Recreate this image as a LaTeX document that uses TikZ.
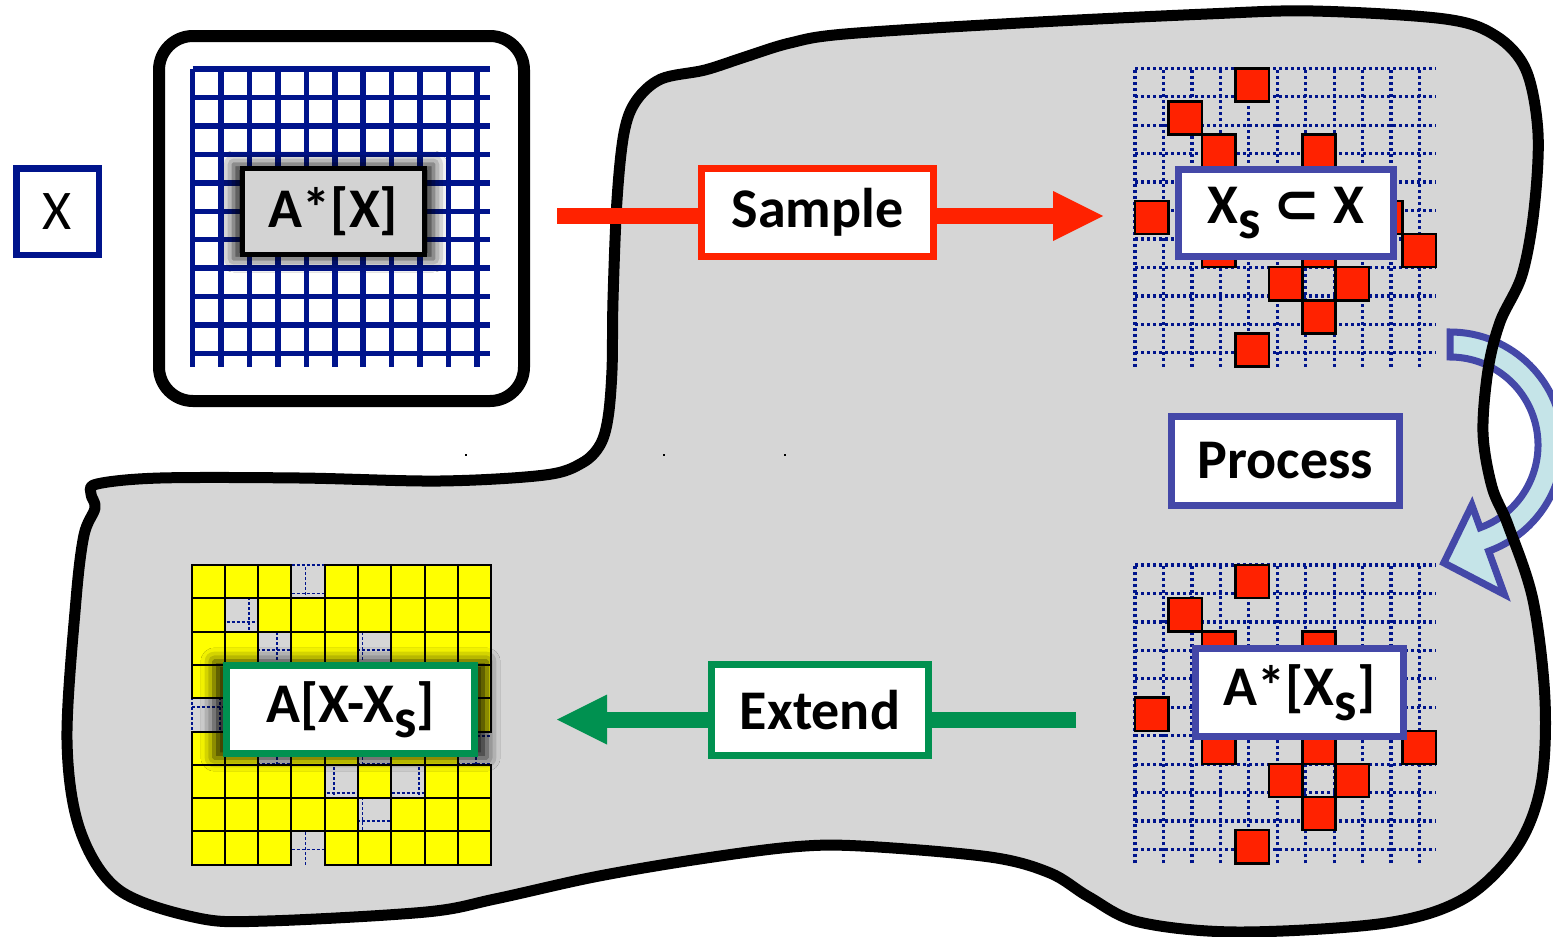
\documentclass[tikz,border=0pt]{standalone}
\usepackage{fontspec}
\setmainfont{Carlito}
\newfontfamily\symfnt{DejaVu Sans}
\usetikzlibrary{arrows.meta,calc,positioning,shadows.blur}
\definecolor{gridblue}{RGB}{0,20,140}
\definecolor{samplered}{RGB}{255,34,0}
\definecolor{procblue}{RGB}{68,72,168}
\definecolor{extgreen}{RGB}{0,145,80}
\definecolor{blobgray}{RGB}{214,214,214}
\definecolor{labelgray}{RGB}{211,211,211}
\definecolor{turnfill}{RGB}{197,228,232}
\definecolor{cellyellow}{RGB}{255,255,0}
\newcommand{\sub}[1]{\raisebox{-0.27em}{#1}}
% cells picked by the sampler (column/row, counted from the top left)
\newcommand{\samplecells}{3/0,1/1,2/2,5/2,2/3,5/3,0/4,7/4,2/5,5/5,8/5,4/6,6/6,5/7,3/8}
% outline of the grey work area
\newcommand{\blobpath}{plot[smooth cycle,tension=0.55] coordinates {
  (97,484) (160,478) (300,478) (440,481) (545,475) (582,463) (600,445)
  (608,418) (612,370) (613,300) (617,200) (624,133) (636,101) (661,79)
  (705,70) (745,57) (790,43) (845,34) (1020,23) (1207,14) (1313,11)
  (1445,19) (1496,36) (1526,70) (1538,133) (1534,210) (1522,275)
  (1500,322) (1488,370) (1483,433) (1492,487) (1508,525) (1533,600)
  (1545,700) (1541,785) (1517,847) (1465,898) (1386,923) (1238,932)
  (1139,922) (1089,897) (1050,873) (990,857) (861,846) (792,847)
  (693,860) (594,877) (495,899) (426,912) (267,921) (198,918)
  (119,890) (80,830) (67,740) (76,600) (84,535) (95,508) (91,494)}}
\tikzset{
  lbl/.style={draw,line width=7pt,fill=white,inner sep=0pt,
    font=\bfseries\fontsize{56}{56}\selectfont},
  glow/.style={blur shadow={shadow xshift=0pt,shadow yshift=0pt,
    shadow scale=1.1,shadow blur radius=12pt,shadow opacity=90}},
  flowline/.style={line width=16pt},
  bighead/.style={-{Triangle[length=50pt,width=50pt,line width=0pt]}},
  dotgrid/.style={gridblue,line width=3.3pt,dash pattern=on 3pt off 3pt},
  dashgrid/.style={gridblue,line width=1.8pt,dash pattern=on 3pt off 2pt},
  redcell/.style={draw=black,line width=2.5pt,fill=samplered},
  yellowcell/.style={draw=black,line width=2pt,fill=cellyellow}
}

\begin{document}
\begin{tikzpicture}[x=1pt,y=-1pt]
  \useasboundingbox (0,0) rectangle (1553,937);
  % ---------------- grey work area + turn arrow ------------------------
  \fill[blobgray] \blobpath;
  \coordinate (turnC) at (1450,445);
  \draw[procblue,line width=7pt,fill=turnfill,line join=miter]
    ($(turnC)+(-90:113)$) arc[start angle=-90,end angle=70,radius=113]
    -- ($(turnC)+(70:159)$) -- ($(turnC)+(93:118)$) -- ($(turnC)+(70:64)$)
    -- ($(turnC)+(70:88)$) arc[start angle=70,end angle=-90,radius=88]
    -- cycle;
  \draw[line width=11pt,line join=round] \blobpath;
  \foreach \dx in {465,585,663,784}
    \fill (\dx,454) rectangle ++(1.8,1.8);

  % ---------------- full data set (top left) ---------------------------
  \draw[line width=12pt,fill=white,rounded corners=34pt] (159,36) rectangle (524,401);
  \begin{scope}[shift={(192.5,69)},x=33.1pt,y=-33.1pt]
    \draw[gridblue,line width=5.5pt] (0,0) grid (9,9);
  \end{scope}
  \node[lbl,draw=gridblue,line width=6.5pt,font=\fontsize{56}{56}\selectfont,
    minimum width=82.5pt,minimum height=86.5pt] (xBox) at (57.5,211.5) {X};
  \node[lbl,draw=black,line width=5pt,fill=labelgray,glow,
    minimum width=182pt,minimum height=86pt] (fullBox) at (333.5,211.5) {A*[X]};

  % ---------------- sampled cells (top right) --------------------------
  \begin{scope}[shift={(1135,68.3)},x=33.45pt,y=-33.15pt]
    \draw[dotgrid] (0,0) grid (9,9);
    \foreach \cc/\rr in \samplecells
      \draw[redcell] (\cc,\rr) rectangle ++(1,1);
  \end{scope}
  \node[lbl,draw=procblue,minimum width=215pt,minimum height=87pt]
    (subsetBox) at (1286,213) {X\sub{s} {\symfnt ⊂} X};

  % ---------------- processed cells (bottom right) ---------------------
  \begin{scope}[shift={(1135,565)},x=33.45pt,y=-33.15pt]
    \draw[dotgrid] (0,0) grid (9,9);
    \foreach \cc/\rr in \samplecells
      \draw[redcell] (\cc,\rr) rectangle ++(1,1);
  \end{scope}
  \node[lbl,draw=procblue,minimum width=228pt,minimum height=89pt]
    (procBox) at (1285.5,461) {Process};
  \node[lbl,draw=procblue,minimum width=208pt,minimum height=88pt]
    (partBox) at (1299.5,692.5) {A*[X\sub{s}]};

  % ---------------- extended result (bottom left) ----------------------
  \begin{scope}[shift={(191.7,565)},x=33.26pt,y=-33.3pt]
    \draw[dashgrid] (0,0) grid (9,9);
    % every cell that was not sampled
    \foreach \rr/\cols in {0/{0,1,2,4,5,6,7,8},1/{0,2,3,4,5,6,7,8},
        2/{0,1,3,4,6,7,8},3/{0,1,3,4,6,7,8},4/{1,2,3,4,5,6,8},
        5/{0,1,3,4,6,7},6/{0,1,2,3,5,7,8},7/{0,1,2,3,4,6,7,8},
        8/{0,1,2,4,5,6,7,8}}
      \foreach \cc in \cols
        \draw[yellowcell] (\cc,\rr) rectangle ++(1,1);
  \end{scope}
  \node[lbl,draw=extgreen,glow,minimum width=248pt,minimum height=88pt]
    (resultBox) at (350.5,709.5) {A[X-X\sub{s}]};

  % ---------------- sample / extend arrows -----------------------------
  \node[lbl,draw=samplered,minimum width=231.5pt,minimum height=87.5pt]
    (sampleBox) at (817.5,212.5) {Sample};
  \node[lbl,draw=extgreen,minimum width=217pt,minimum height=91pt]
    (extendBox) at (820,710) {Extend};
  \coordinate (sampleTail) at (557,216);
  \coordinate (sampleTip) at (1103,216);
  \draw[flowline,samplered] (sampleTail) -- (sampleTail -| sampleBox.west);
  \draw[flowline,samplered,bighead] (sampleTail -| sampleBox.east) -- (sampleTip);
  \coordinate (extendTail) at (1076,719.5);
  \coordinate (extendTip) at (557,719.5);
  \draw[flowline,extgreen] (extendTail) -- (extendTail -| extendBox.east);
  \draw[flowline,extgreen,bighead] (extendTail -| extendBox.west) -- (extendTip);
\end{tikzpicture}
\end{document}
